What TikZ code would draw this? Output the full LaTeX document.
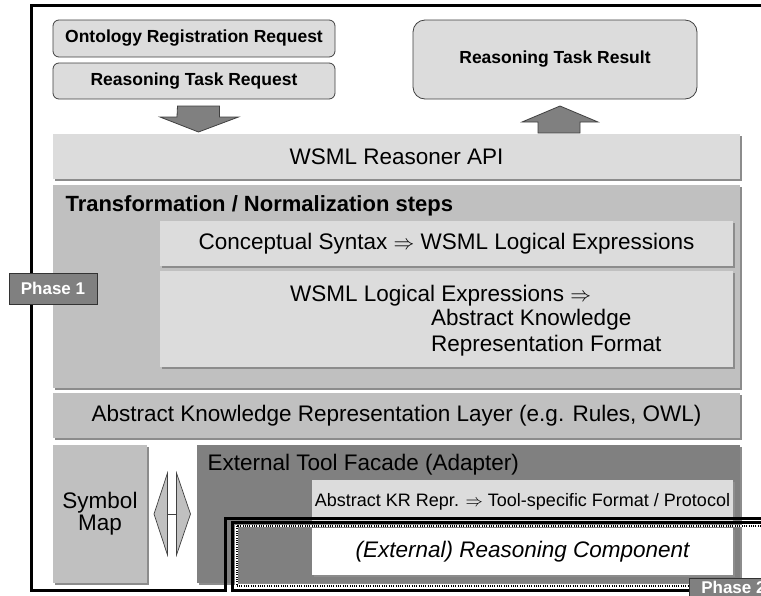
\documentclass[tikz,border=0pt]{standalone}
\usepackage{fontspec}
\setmainfont{Liberation Sans}
\usetikzlibrary{shadows}
\definecolor{lightfill}{HTML}{DCDCDC}
\definecolor{midfill}{HTML}{C0C0C0}
\definecolor{darkfill}{HTML}{808080}
\definecolor{edge}{HTML}{404040}
\begin{document}
\begin{tikzpicture}[x=1pt,y=-1pt,
  panel/.style={rectangle, inner sep=0pt, outer sep=0pt,
    drop shadow={shadow xshift=1.5pt, shadow yshift=-1.5pt, fill=black!45, opacity=1}},
  light/.style={panel, fill=lightfill},
  mid/.style={panel, fill=midfill},
  dark/.style={panel, fill=darkfill},
  req/.style={rectangle, rounded corners=6pt, draw=edge, line width=0.8pt,
    fill=lightfill, inner sep=0pt, font=\bfseries\fontsize{17.5}{20}\selectfont},
  big/.style={font=\fontsize{22.5}{24}\selectfont},
  small/.style={font=\fontsize{18}{21}\selectfont},
  phase/.style={rectangle, fill=darkfill, draw=black!80, line width=0.8pt,
    text=white, font=\bfseries\fontsize{17}{20}\selectfont,
    minimum width=88pt, inner sep=0pt},
  blockarrow/.style={fill=darkfill, draw=edge, line width=0.8pt, line join=miter},
  twoway/.style={fill=midfill, draw=edge, line width=0.7pt, line join=miter},
  frame/.style={line width=3pt, line join=miter}
]
\clip (0,0) rectangle (761,595);
\fill[white] (0,0) rectangle (761,595);

% requests and result
\node[req, minimum width=282pt, minimum height=37pt] (ontreq) at (194,38.5) {Ontology Registration Request};
\node[req, minimum width=282pt, minimum height=36pt] (taskreq) at (194,81) {Reasoning Task Request};
\node[req, rounded corners=12pt, minimum width=284pt, minimum height=79pt] (result) at (555,59.5) {Reasoning Task Result};

% reasoner API
\node[light, big, minimum width=687pt, minimum height=45pt] (api) at (396.5,156.5) {WSML Reasoner API};

% block arrows between requests / API / result
\coordinate (dn) at (198.5,106);
\draw[blockarrow] (dn) ++(-21,0) -- ++(42,0) -- ++(0,11) -- ++(19,0) -- (198.5,132) -- (160,117) -- ++(17,0) -- cycle;
\coordinate (up) at (560,106);
\draw[blockarrow] (up) -- (598,122) -- ++(-18,0) -- ++(0,11) -- ++(-42,0) -- ++(0,-11) -- (522,122) -- cycle;

% transformation steps
\node[mid, minimum width=687pt, minimum height=203pt] (trans) at (396.5,286.5) {};
\node[anchor=west, font=\bfseries\fontsize{22}{24}\selectfont] (transtitle) at (62,206) {Transformation / Normalization steps};
\node[light, big, minimum width=573pt, minimum height=45pt] (concept) at (446.5,243.5)
  {Conceptual Syntax $\Rightarrow$ WSML Logical Expressions};
\node[light, minimum width=573pt, minimum height=96pt] (logical) at (446.5,319) {};
\node[big, anchor=west, inner sep=0pt] (logtext) at (290,296) {WSML Logical Expressions $\Rightarrow$};
\node[big, anchor=north west, align=left, inner sep=0pt, font=\fontsize{22.5}{26}\selectfont] (logtext2) at (431,309)
  {Abstract Knowledge\\Representation Format};

% abstract knowledge representation layer
\node[mid, big, minimum width=687pt, minimum height=45pt] (akrl) at (396.5,415.5)
  {Abstract Knowledge Representation Layer (e.g. Rules, OWL)};

% symbol map and tool facade
\node[mid, big, align=center, minimum width=94pt, minimum height=138pt,
  font=\fontsize{22.5}{23}\selectfont] (symmap) at (100,514) {Symbol\\[-1pt]Map};
\node[dark, minimum width=543pt, minimum height=138pt] (facade) at (468.5,514) {};
\node[big, anchor=west] (facadetitle) at (204,465) {External Tool Facade (Adapter)};
\node[light, small, minimum width=421pt, minimum height=44pt] (krrepr) at (522.5,502)
  {Abstract KR Repr. $\Rightarrow$ Tool-specific Format / Protocol};
\node[panel, fill=white, minimum width=421pt, minimum height=47pt,
  font=\itshape\fontsize{22.5}{24}\selectfont] (reasoner) at (522.5,551.5)
  {(External) Reasoning Component};

% two-way arrow between symbol map and facade
\path (symmap.east) -- (facade.west) coordinate[midway] (mapx);
\draw[twoway] (mapx) ++(-18,0) -- ++(13.5,-41) -- ++(0,82) -- cycle;
\draw[twoway] (mapx) ++(18.5,0) -- ++(-14,-41) -- ++(0,82) -- cycle;
\draw[edge, line width=0.7pt] (mapx) ++(-4.5,0) -- ++(9,0);

% phase 1 boundary
\draw[frame] (770,5) -- (31.5,5) -- (31.5,590) -- (225.5,590) -- (225.5,518) -- (770,518);
% phase 2 boundary
\draw[frame] (232,522) rectangle (790,590);
\draw[white, line width=2.5pt] (236.5,526) rectangle (790,585.5);
\draw[line width=2pt, dash pattern=on 1pt off 1.3pt] (236.5,526) rectangle (790,585.5);

% phase labels
\node[phase, minimum height=31pt] (phase1) at (53,288.5) {Phase 1};
\node[phase, anchor=north west, minimum height=18pt] (phase2) at (689,578) {Phase 2};
\end{tikzpicture}
\end{document}
